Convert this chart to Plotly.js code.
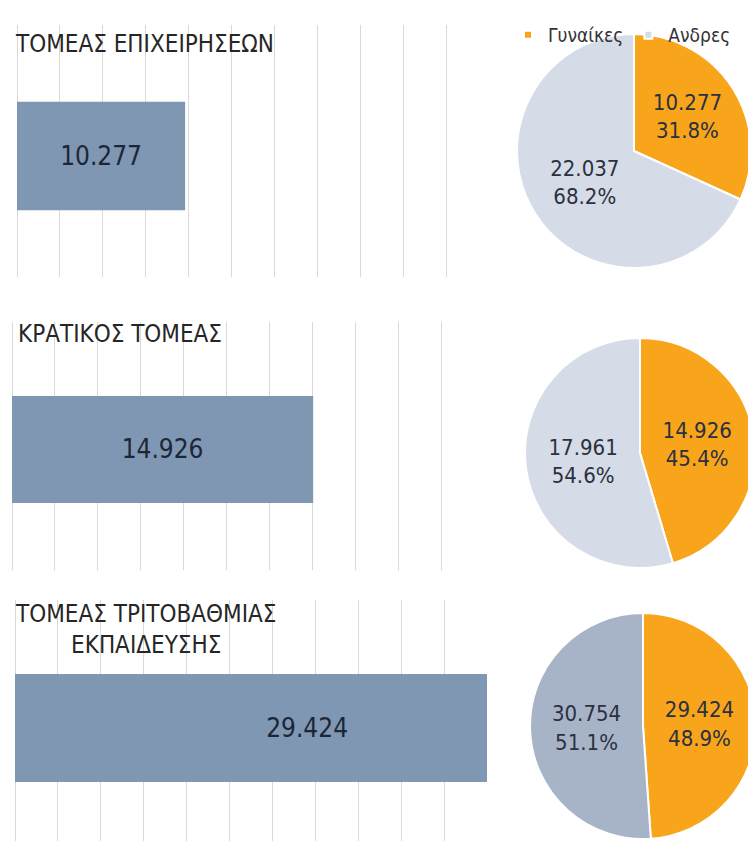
<!DOCTYPE html>
<html>
<head>
<meta charset="utf-8">
<script src="https://cdn.plot.ly/plotly-3.0.1.min.js"></script>
<style>
html,body{margin:0;padding:0;overflow:hidden;background:#fff;width:748px;height:841px;}
#chart{width:760px;height:841px;}
</style>
</head>
<body>
<div id="chart"></div>
<script>
// ---- data ----
const sectors = ["ΤΟΜΕΑΣ ΕΠΙΧΕΙΡΗΣΕΩΝ", "ΚΡΑΤΙΚΟΣ ΤΟΜΕΑΣ", "ΤΟΜΕΑΣ ΤΡΙΤΟΒΑΘΜΙΑΣ<br>ΕΚΠΑΙΔΕΥΣΗΣ"];
const genderLabels = ["Γυναίκες", "Ανδρες"];
const women = [10277, 14926, 29424];
const men = [22037, 17961, 30754];

// ---- styles / layout config ----
const W = 760, H = 841;
const FONT = '"Liberation Sans Narrow", "DejaVu Sans Condensed", "Roboto", sans-serif';
const barColor = '#7f97b2';
const orange = '#f8a51c';
const menColors = ['#d5dce7', '#d5dce7', '#a7b4c8'];
const gridStep = 42.9;
// pixel boxes for each panel (left, top, bottom)
const barBox = [{l:17, t:25, b:277}, {l:12, t:322, b:570}, {l:15, t:600, b:841}];
const axisMax = [28860, 23400, 23780];
const yRanges = [[-0.48, 0.52], [-0.486, 0.514], [-0.469, 0.531]];
const barWidths = [0.43, 0.431, 0.448];
const pieBox = [{l:517, r:751, t:34, b:268}, {l:525, r:755, t:338, b:568}, {l:530, r:756, t:613, b:839}];
const titlePos = [{x:13, y:44}, {x:16, y:334}, {x:13, y:629}];

function fmt(v){ return Math.floor(v/1000) + '.' + String(v % 1000).padStart(3, '0'); }
const px = x => x / W, py = y => 1 - y / H;

const traces = [];
const layout = {
  width: W, height: H,
  margin: {l:0, r:0, t:0, b:0},
  paper_bgcolor: '#fff', plot_bgcolor: 'rgba(0,0,0,0)',
  font: {family: FONT, color: '#262626'},
  showlegend: true,
  legend: {orientation: 'h', x: px(508), y: py(16), xanchor: 'left', yanchor: 'top',
           font: {family: FONT, size: 19, color: '#333333'}, bgcolor: 'rgba(0,0,0,0)',
           itemwidth: 30, tracegroupgap: 0},
  annotations: []
};

for (let i = 0; i < 3; i++) {
  const xa = i === 0 ? 'x' : 'x' + (i + 1);
  const ya = i === 0 ? 'y' : 'y' + (i + 1);
  const dt = axisMax[i] / 11;
  traces.push({
    type: 'bar', orientation: 'h',
    x: [women[i]], y: [0], customdata: [fmt(women[i])],
    xaxis: xa, yaxis: ya,
    width: barWidths[i],
    marker: {color: barColor, line: {width: 0}},
    texttemplate: '%{customdata}', textposition: 'inside', insidetextanchor: 'middle',
    textangle: 0, constraintext: 'none',
    insidetextfont: {family: FONT, size: 26, color: '#1d2636'},
    hoverinfo: 'skip', showlegend: false, cliponaxis: true
  });
  const b = barBox[i];
  layout[i === 0 ? 'xaxis' : 'xaxis' + (i + 1)] = {
    domain: [px(b.l), px(b.l + 11 * gridStep)],
    range: [0, axisMax[i] * 0.9995], anchor: ya,
    tickmode: 'linear', tick0: 0, dtick: dt,
    showgrid: true, gridcolor: '#d9d9d9', gridwidth: 1,
    zeroline: true, zerolinecolor: '#d9d9d9', zerolinewidth: 1,
    showticklabels: false, ticks: '', showline: false, fixedrange: true
  };
  layout[i === 0 ? 'yaxis' : 'yaxis' + (i + 1)] = {
    domain: [py(b.b), py(b.t)], range: yRanges[i], anchor: xa,
    showgrid: false, zeroline: false, showticklabels: false, ticks: '', showline: false, fixedrange: true
  };
  const p = pieBox[i];
  traces.push({
    type: 'pie', labels: genderLabels, values: [women[i], men[i]],
    customdata: [fmt(women[i]), fmt(men[i])],
    sort: false, direction: 'clockwise', rotation: 0,
    domain: {x: [px(p.l), px(p.r)], y: [py(p.b), py(p.t)]},
    marker: {colors: [orange, menColors[i]], line: {color: '#ffffff', width: 2}},
    texttemplate: '%{customdata}<br>%{percent:.1%}', textposition: 'inside',
    insidetextorientation: 'horizontal',
    textfont: {family: FONT, size: 22, color: '#2b3040'},
    hoverinfo: 'skip', showlegend: i === 0
  });
  layout.annotations.push({
    text: sectors[i], xref: 'paper', yref: 'paper',
    x: px(titlePos[i].x), y: py(titlePos[i].y), xanchor: 'left', yanchor: 'middle',
    align: 'center', showarrow: false,
    font: {family: FONT, size: 24, color: '#262626'}
  });
}

Plotly.newPlot('chart', traces, layout, {displayModeBar: false, staticPlot: true}).then(() => {
  document.querySelectorAll('.legendpie').forEach(p => p.setAttribute('d', 'M4,4H-4V-4H4Z'));
});
</script>
</body>
</html>
